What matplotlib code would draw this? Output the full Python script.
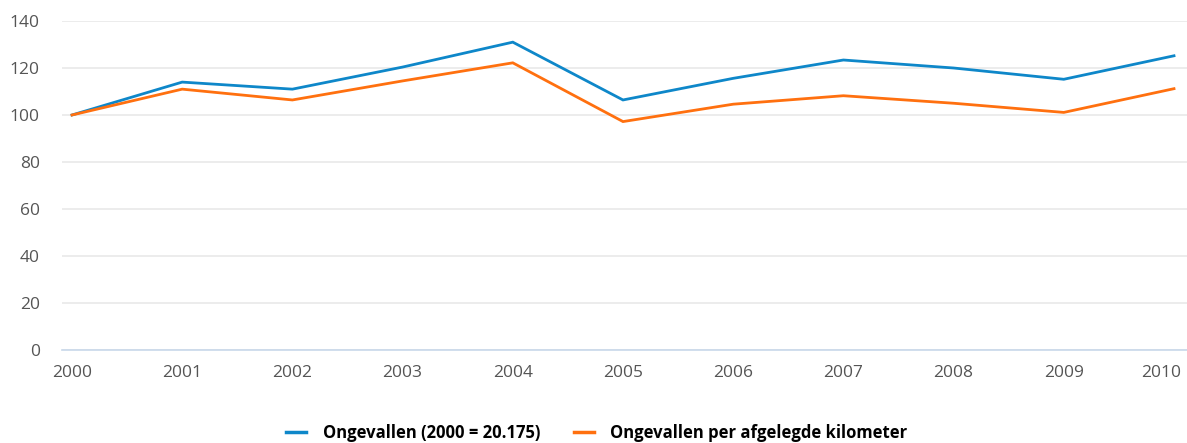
import matplotlib.pyplot as plt
import matplotlib.transforms as mtransforms
from matplotlib.lines import Line2D

jaren = list(range(2000, 2011))
ongevallen = [100, 114, 111, 120.4, 131, 106.4, 115.6, 123.4, 120, 115.2, 125.2]
per_km = [100, 111, 106.4, 114.5, 122.2, 97.2, 104.6, 108.2, 105, 101.1, 111.2]
labels = ["Ongevallen (2000 = 20.175)", "Ongevallen per afgelegde kilometer"]

blauw = "#0e87c9"
oranje = "#ff700f"

plt.rcParams['font.family'] = ['Open Sans', 'DejaVu Sans']

fig = plt.figure(figsize=(11.87, 4.43), dpi=100)
ax = fig.add_axes([62 / 1187, 93 / 443, 1125 / 1187, 329 / 443])

ax.plot(jaren, ongevallen, color=blauw, lw=2.0, solid_joinstyle="miter")
ax.plot(jaren, per_km, color=oranje, lw=2.0, solid_joinstyle="miter")

ax.set_xlim(2000 - 10 / 110.2, 2010 + 13 / 110.2)
ax.set_ylim(0, 140)
ax.set_yticks(range(0, 141, 20))
ax.set_xticks(jaren)

ax.grid(axis="y", color="#e9e9e9", lw=1.2)
ax.set_axisbelow(True)
for s in ["top", "right", "left"]:
    ax.spines[s].set_visible(False)
ax.spines["bottom"].set_color("#c8d8ea")
ax.spines["bottom"].set_linewidth(1.2)

ax.tick_params(axis="both", length=0, colors="#555555", labelsize=12.5)
ax.tick_params(axis="y", pad=16)
ax.tick_params(axis="x", pad=11)

# laatste jaartal iets naar binnen schuiven zodat het binnen de figuur blijft
last = ax.get_xticklabels()[-1]
last.set_transform(last.get_transform() + mtransforms.ScaledTranslation(-13 / 100, 0, fig.dpi_scale_trans))

handles = [Line2D([], [], color=blauw, lw=2.5), Line2D([], [], color=oranje, lw=2.5)]
fig.legend(handles, labels, loc="center", bbox_to_anchor=(597 / 1187, 1 - 433 / 443),
           ncol=2, frameon=False, handlelength=1.2, handletextpad=1.0, columnspacing=2.0,
           prop={"weight": "bold", "size": 12})

fig.savefig("out.png", dpi=100)
